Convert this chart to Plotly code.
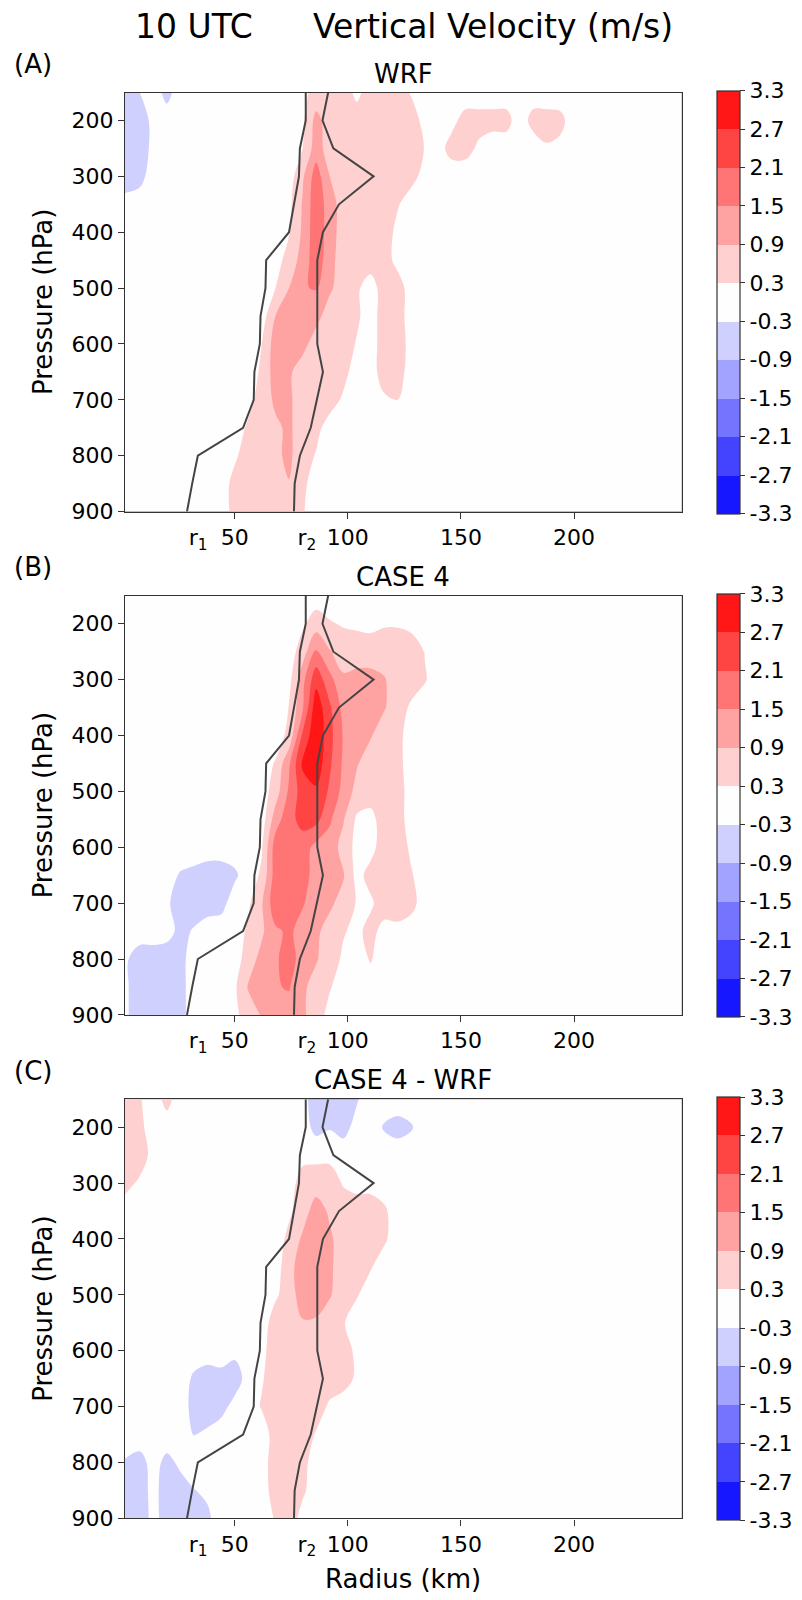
import numpy as np
import plotly.graph_objects as go

# ---------------- data ----------------
radius_km = [1.5, 8, 14, 20, 26, 32, 38, 44, 50, 56, 62, 68, 74, 80, 86, 92, 98, 104,
             110, 116, 122, 128, 134, 140, 146, 152, 158, 164, 170, 176, 182, 188, 194, 200, 248]
pressure_hpa = [150, 200, 250, 300, 350, 400, 450, 500, 550, 600, 650, 700, 750, 800, 850, 900]

w_wrf = [
    [-0.6,-0.3,0,-0.5,0,0,0,0,0,0,0,0,0,0.15,0.5,0.6,0.6,0.15,0.6,0.6,0.6,0.25,0,0,0,0,0,0,0,0,0,0,0,0,0],
    [-0.6,-0.6,-0.15,0,0,0,0,0,0,0,0,0,0,0.2,1.1,0.6,0.6,0.6,0.6,0.6,0.6,0.6,0.1,0,0.15,0.5,0.5,0.5,0.5,0,0.5,0.5,0.45,0,0],
    [-0.6,-0.6,-0.15,0,0,0,0,0,0,0,0,0,0,0.3,1.2,0.6,0.6,0.6,0.6,0.6,0.6,0.6,0.28,0.1,0.5,0.5,0.2,0,0,0,0,0.25,0.15,0,0],
    [-0.6,-0.5,0,0,0,0,0,0,0,0,0,0,0,0.8,1.8,0.9,0.6,0.6,0.6,0.6,0.6,0.5,0.1,0,0,0,0,0,0,0,0,0,0,0,0],
    [-0.1,0,0,0,0,0,0,0,0,0,0,0,0.15,0.95,1.9,1.2,0.6,0.6,0.6,0.6,0.35,0,0,0,0,0,0,0,0,0,0,0,0,0,0],
    [0,0,0,0,0,0,0,0,0,0,0,0,0.25,1.0,1.9,1.2,0.6,0.6,0.6,0.6,0.15,0,0,0,0,0,0,0,0,0,0,0,0,0,0],
    [0,0,0,0,0,0,0,0,0,0,0,0,0.6,1.1,1.9,1.1,0.6,0.6,0.6,0.6,0.1,0,0,0,0,0,0,0,0,0,0,0,0,0,0],
    [0,0,0,0,0,0,0,0,0,0,0,0.3,0.9,1.45,1.55,1.0,0.6,0.4,0,0.6,0.6,0,0,0,0,0,0,0,0,0,0,0,0,0,0],
    [0,0,0,0,0,0,0,0,0,0,0,0.9,1.2,1.2,1.1,0.6,0.6,0.4,0,0.6,0.6,0,0,0,0,0,0,0,0,0,0,0,0,0,0],
    [0,0,0,0,0,0,0,0,0,0,0.3,1.2,1.2,1.1,0.6,0.6,0.6,0.25,0,0.6,0.6,0.1,0,0,0,0,0,0,0,0,0,0,0,0,0],
    [0,0,0,0,0,0,0,0,0,0,0.4,1.2,1.0,0.6,0.6,0.6,0.5,0,0,0.6,0.6,0,0,0,0,0,0,0,0,0,0,0,0,0,0],
    [0,0,0,0,0,0,0,0,0,0.1,0.6,1.0,1.0,0.6,0.6,0.6,0.2,0,0,0.2,0.3,0,0,0,0,0,0,0,0,0,0,0,0,0,0],
    [0,0,0,0,0,0,0,0,0,0.4,0.6,0.8,1.0,0.6,0.5,0,0,0,0,0,0,0,0,0,0,0,0,0,0,0,0,0,0,0,0],
    [0,0,0,0,0,0,0,0,0.2,0.6,0.6,0.8,1.0,0.6,0.25,0,0,0,0,0,0,0,0,0,0,0,0,0,0,0,0,0,0,0,0],
    [0,0,0,0,0,0,0,0,0.5,0.6,0.6,0.7,0.88,0.45,0,0,0,0,0,0,0,0,0,0,0,0,0,0,0,0,0,0,0,0,0],
    [0,0,0,0,0,0,0,0,0.5,0.6,0.6,0.6,0.6,0.35,0,0,0,0,0,0,0,0,0,0,0,0,0,0,0,0,0,0,0,0,0],
]

w_case4 = [
    [0,0,0,0,0,0,0,0,0,0,0,0,0,0,0,0,0,0,0,0,0,0,0,0,0,0,0,0,0,0,0,0,0,0,0],
    [0,0,0,0,0,0,0,0,0,0,0,0,0,0.2,0.6,0.35,0.25,0.2,0.15,0.25,0.25,0.15,0,0,0,0,0,0,0,0,0,0,0,0,0],
    [0,0,0,0,0,0,0,0,0,0,0,0,0,0.6,1.6,0.95,0.6,0.6,0.6,0.6,0.6,0.6,0.28,0,0,0,0,0,0,0,0,0,0,0,0],
    [0,0,0,0,0,0,0,0,0,0,0,0,0.1,1.3,2.5,1.7,1.0,1.1,1.1,0.95,0.6,0.6,0.35,0,0,0,0,0,0,0,0,0,0,0,0],
    [0,0,0,0,0,0,0,0,0,0,0,0,0.32,1.4,3.1,2.2,1.3,1.2,1.1,0.95,0.6,0.2,0,0,0,0,0,0,0,0,0,0,0,0,0],
    [0,0,0,0,0,0,0,0,0,0,0,0,0.45,2.2,3.2,2.3,1.45,1.0,0.95,0.6,0.5,0,0,0,0,0,0,0,0,0,0,0,0,0,0],
    [0,0,0,0,0,0,0,0,0,0,0,0.35,1.4,2.8,3.1,2.2,1.4,0.95,0.6,0.6,0.5,0,0,0,0,0,0,0,0,0,0,0,0,0,0],
    [0,0,0,0,0,0,0,0,0,0,0,0.6,1.6,2.4,2.6,2.0,1.3,0.7,0.6,0.6,0.6,0,0,0,0,0,0,0,0,0,0,0,0,0,0],
    [0,0,0,0,0,0,0,0,0,0,0,1.2,1.9,2.3,2.3,1.6,0.95,0.2,0.1,0.6,0.6,0,0,0,0,0,0,0,0,0,0,0,0,0,0],
    [0,0,0,0,0,0,0,0,0,0,0.25,1.8,1.9,1.8,1.3,1.2,0.7,0.1,0.1,0.6,0.6,0.2,0,0,0,0,0,0,0,0,0,0,0,0,0],
    [0,0,0,-0.1,-0.35,-0.45,-0.6,-0.6,-0.4,0,0.4,1.8,1.9,1.7,1.3,1.1,0.95,0.1,0.5,0.6,0.6,0.35,0,0,0,0,0,0,0,0,0,0,0,0,0],
    [0,0,0,-0.2,-0.6,-0.6,-0.6,-0.5,0,0.2,0.85,1.9,1.9,1.55,1.2,1.0,0.7,0.25,0.2,0.6,0.6,0.5,0,0,0,0,0,0,0,0,0,0,0,0,0],
    [0,0,0,-0.1,-0.45,-0.25,0,0,0,0.4,0.8,1.4,1.6,1.3,1.0,0.7,0.35,0.15,0.5,0.1,0.15,0,0,0,0,0,0,0,0,0,0,0,0,0,0],
    [-0.2,-0.6,-0.6,-0.6,-0.5,0,0,0,0,0.6,1.1,1.4,1.8,1.2,0.95,0.6,0.2,0,0.35,0,0,0,0,0,0,0,0,0,0,0,0,0,0,0,0],
    [-0.2,-0.6,-0.6,-0.6,-0.5,0,0,0,0.2,0.95,1.2,1.45,1.55,1.0,0.7,0.35,0,0,0,0,0,0,0,0,0,0,0,0,0,0,0,0,0,0,0],
    [-0.2,-0.6,-0.6,-0.6,-0.5,0,0,0,0.15,0.6,0.95,1.2,1.2,1.0,0.6,0.1,0,0,0,0,0,0,0,0,0,0,0,0,0,0,0,0,0,0,0],
]

w_diff = [
    [0.6,0.35,0,0.5,0,0,0,0,0,0,0,0,0,-0.1,-0.6,-0.4,-0.6,-0.35,0,0,0,0,0,0,0,0,0,0,0,0,0,0,0,0,0],
    [0.6,0.45,0,0,0,0,0,0,0,0,0,0,0,0,-0.5,-0.35,-0.5,-0.1,0,-0.35,-0.5,-0.35,0,0,0,0,0,0,0,0,0,0,0,0,0],
    [0.6,0.6,0.1,0,0,0,0,0,0,0,0,0,0,0.1,0.15,0.15,0,0,0,0,0,0,0,0,0,0,0,0,0,0,0,0,0,0,0],
    [0.5,0.2,0,0,0,0,0,0,0,0,0,0,0,0.6,0.6,0.6,0.25,0.1,0.1,0,0,0,0,0,0,0,0,0,0,0,0,0,0,0,0],
    [0,0,0,0,0,0,0,0,0,0,0,0,0.2,0.6,1.2,0.8,0.6,0.6,0.6,0.4,0,0,0,0,0,0,0,0,0,0,0,0,0,0,0],
    [0,0,0,0,0,0,0,0,0,0,0,0,0.45,1.0,1.3,1.0,0.6,0.6,0.6,0.4,0,0,0,0,0,0,0,0,0,0,0,0,0,0,0],
    [0,0,0,0,0,0,0,0,0,0,0,0,0.7,1.2,1.3,1.0,0.6,0.6,0.35,0,0,0,0,0,0,0,0,0,0,0,0,0,0,0,0],
    [0,0,0,0,0,0,0,0,0,0,0,0.2,0.6,1.2,1.3,0.95,0.6,0.35,0,0,0,0,0,0,0,0,0,0,0,0,0,0,0,0,0],
    [0,0,0,0,0,0,0,0,0,0,0,0.6,0.6,0.85,0.8,0.6,0.35,0,0,0,0,0,0,0,0,0,0,0,0,0,0,0,0,0,0],
    [0,0,0,0,0,0,0,0,-0.15,-0.1,0.15,0.6,0.6,0.6,0.6,0.6,0.5,0.2,0,0,0,0,0,0,0,0,0,0,0,0,0,0,0,0,0],
    [0,0,0,0,0,-0.4,-0.6,-0.5,-0.6,-0.05,0.25,0.6,0.6,0.6,0.6,0.6,0.55,0.2,0,0,0,0,0,0,0,0,0,0,0,0,0,0,0,0,0],
    [0,0,0,0,0,-0.5,-0.6,-0.5,-0.1,0,0.35,0.6,0.6,0.6,0.6,0.2,0,0,0,0,0,0,0,0,0,0,0,0,0,0,0,0,0,0,0],
    [0,0,0,0,0,-0.32,-0.2,0,0,0,0,0.55,0.6,0.6,0.25,0,0,0,0,0,0,0,0,0,0,0,0,0,0,0,0,0,0,0,0],
    [-0.35,-0.5,-0.1,-0.45,-0.2,0,0,0,0,0,0.05,0.6,0.6,0.5,0,0,0,0,0,0,0,0,0,0,0,0,0,0,0,0,0,0,0,0,0],
    [-0.45,-0.6,-0.1,-0.6,-0.5,-0.32,-0.2,0,0,0,0,0.6,0.6,0.4,0,0,0,0,0,0,0,0,0,0,0,0,0,0,0,0,0,0,0,0,0],
    [-0.45,-0.6,-0.15,-0.5,-0.6,-0.6,-0.4,0,0,0,0,0.35,0.6,0.1,0,0,0,0,0,0,0,0,0,0,0,0,0,0,0,0,0,0,0,0,0],
]

line_pressure = [150, 200, 250, 300, 350, 400, 450, 500, 550, 600, 650, 700, 750, 800, 850, 900]
r1_km = [81.4, 81.4, 78.8, 78.4, 76.2, 74.0, 63.9, 63.6, 61.4, 61.1, 58.7, 58.4, 53.7, 33.7, 31.2, 28.9]
r2_km = [91.3, 88.8, 93.6, 111.4, 96.1, 89.0, 86.5, 86.5, 86.5, 86.5, 89.0, 86.2, 83.6, 78.8, 76.5, 76.2]

levels = [-3.3, -2.7, -2.1, -1.5, -0.9, -0.3, 0.3, 0.9, 1.5, 2.1, 2.7, 3.3]
level_labels = ["-3.3", "-2.7", "-2.1", "-1.5", "-0.9", "-0.3", "0.3", "0.9", "1.5", "2.1", "2.7", "3.3"]
x_ticks = [50, 100, 150, 200]
y_ticks = [200, 300, 400, 500, 600, 700, 800, 900]
r_tick_pos = [33.8, 81.9]
r_tick_text = ["r<sub>1</sub>", "r<sub>2</sub>"]
panel_titles = ["WRF", "CASE 4", "CASE 4 - WRF"]
panel_tags = ["(A)", "(B)", "(C)"]
fields = [w_wrf, w_case4, w_diff]

# ---------------- colours: matplotlib 'bwr', band midpoints ----------------
def bwr(t):
    idx = min(int(t * 256), 255)
    v = idx / 255.0
    r = min(1.0, 2 * v)
    g = 1 - abs(2 * v - 1)
    b = min(1.0, 2 * (1 - v))
    return "rgb(%d,%d,%d)" % (round(r * 255), round(g * 255), round(b * 255))

lo, hi = levels[0], levels[-1]
nb = len(levels) - 1
band_cols = [bwr(((levels[k] + levels[k + 1]) / 2 - lo) / (hi - lo)) for k in range(nb)]

# contour fill colorscale (plotly maps bands to positions j/12 incl. out-of-range ends)
seg_cols = [band_cols[0]] + band_cols + [band_cols[-1]]
nseg = len(seg_cols)
contour_scale = []
for j, c in enumerate(seg_cols):
    contour_scale.append([max(0.0, (j - 0.5) / (nseg - 1)), c])
    contour_scale.append([min(1.0, (j + 0.5) / (nseg - 1)), c])

# discrete colorbar scale over exactly [-3.3, 3.3]
bar_scale = []
for k, c in enumerate(band_cols):
    bar_scale.append([k / nb, c])
    bar_scale.append([(k + 1) / nb, c])

# ---------------- layout geometry (pixels) ----------------
W, H = 802, 1600
FONT = "DejaVu Sans"
left_px, right_px = 125, 681.5
tops = [93.3, 600.7, 1108.3]
ph = 422.5
fx = lambda px: px / W
fy = lambda py: 1 - py / H
AX = "#333333"

fig = go.Figure()
layout = dict(width=W, height=H, margin=dict(l=0, r=0, t=0, b=0),
              paper_bgcolor="white", plot_bgcolor="white",
              font=dict(family=FONT, size=22, color="black"), showlegend=False)
annotations = []

for i in range(3):
    n = "" if i == 0 else str(i + 1)
    xo = str(i + 4)
    top = tops[i]
    bot = top + ph
    fig.add_trace(go.Contour(
        x=radius_km, y=pressure_hpa, z=fields[i],
        xaxis="x" + n, yaxis="y" + n,
        colorscale=contour_scale, showscale=False,
        contours=dict(start=-3.3, end=3.31, size=0.6, coloring="fill", showlines=False),
        line=dict(width=0, smoothing=1.0),
        hoverinfo="skip",
    ))
    # colour bar (discrete bands between the contour levels)
    fig.add_trace(go.Scatter(
        x=[-1000], y=[500], mode="markers", xaxis="x" + n, yaxis="y" + n,
        cliponaxis=True, hoverinfo="skip",
        marker=dict(size=1, color=[0], cmin=lo, cmax=hi, colorscale=bar_scale, showscale=True,
                    colorbar=dict(x=fx(716.7), xanchor="left", y=fy(top + ph / 2), yanchor="middle",
                                  len=ph, lenmode="pixels", thickness=22.5, thicknessmode="pixels",
                                  outlinewidth=1.2, outlinecolor=AX, xpad=0, ypad=0,
                                  tickmode="array", tickvals=levels, ticktext=level_labels,
                                  ticks="outside", ticklen=5, tickwidth=1.2, tickcolor=AX,
                                  tickfont=dict(family=FONT, size=22, color="black"))),
    ))
    for rk in (r1_km, r2_km):
        fig.add_trace(go.Scatter(x=rk, y=line_pressure, mode="lines",
                                 line=dict(color="#444444", width=2),
                                 xaxis="x" + xo, yaxis="y" + n, hoverinfo="skip"))
    common = dict(showgrid=False, zeroline=False, ticks="outside", ticklen=6, tickwidth=1.3,
                  tickcolor=AX, tickfont=dict(family=FONT, size=22, color="black"))
    layout["xaxis" + n] = dict(domain=[fx(left_px), fx(right_px)], range=[1.5, 247.5],
                               anchor="y" + n, tickmode="array", tickvals=x_ticks,
                               ticktext=[str(v) for v in x_ticks],
                               showline=True, linecolor=AX, linewidth=1.3, mirror=True, **common)
    layout["xaxis" + xo] = dict(overlaying="x" + n, anchor="y" + n, range=[1.5, 247.5],
                                side="bottom", tickmode="array", tickvals=r_tick_pos,
                                ticktext=r_tick_text, showline=False,
                                **{**common, "tickcolor": "rgba(0,0,0,0)"})
    layout["yaxis" + n] = dict(domain=[fy(bot), fy(top)], range=[900, 150], anchor="x" + n,
                               tickmode="array", tickvals=y_ticks,
                               ticktext=[str(v) for v in y_ticks],
                               showline=True, linecolor=AX, linewidth=1.3, mirror=True, **common)
    annotations.append(dict(text=panel_titles[i], x=fx((left_px + right_px) / 2), y=fy(top - 19),
                            xref="paper", yref="paper", xanchor="center", yanchor="middle",
                            showarrow=False, font=dict(family=FONT, size=26)))
    annotations.append(dict(text=panel_tags[i], x=fx(12), y=fy(top - 29),
                            xref="paper", yref="paper", xanchor="left", yanchor="middle",
                            showarrow=False, font=dict(family=FONT, size=26)))
    annotations.append(dict(text="Pressure (hPa)", x=fx(43), y=fy(top + ph / 2),
                            xref="paper", yref="paper", xanchor="center", yanchor="middle",
                            textangle=-90, showarrow=False, font=dict(family=FONT, size=26)))

annotations.append(dict(text="Radius (km)", x=fx((left_px + right_px) / 2), y=fy(1592),
                        xref="paper", yref="paper", xanchor="center", yanchor="middle",
                        showarrow=False, font=dict(family=FONT, size=26)))
annotations.append(dict(text="10 UTC", x=fx(133), y=fy(27), xref="paper", yref="paper",
                        xanchor="left", yanchor="middle", showarrow=False,
                        font=dict(family=FONT, size=33)))
annotations.append(dict(text="Vertical Velocity (m/s)", x=fx(311), y=fy(27), xref="paper",
                        yref="paper", xanchor="left", yanchor="middle", showarrow=False,
                        font=dict(family=FONT, size=33)))
layout["annotations"] = annotations
fig.update_layout(**layout)
fig.write_html("out.html")
